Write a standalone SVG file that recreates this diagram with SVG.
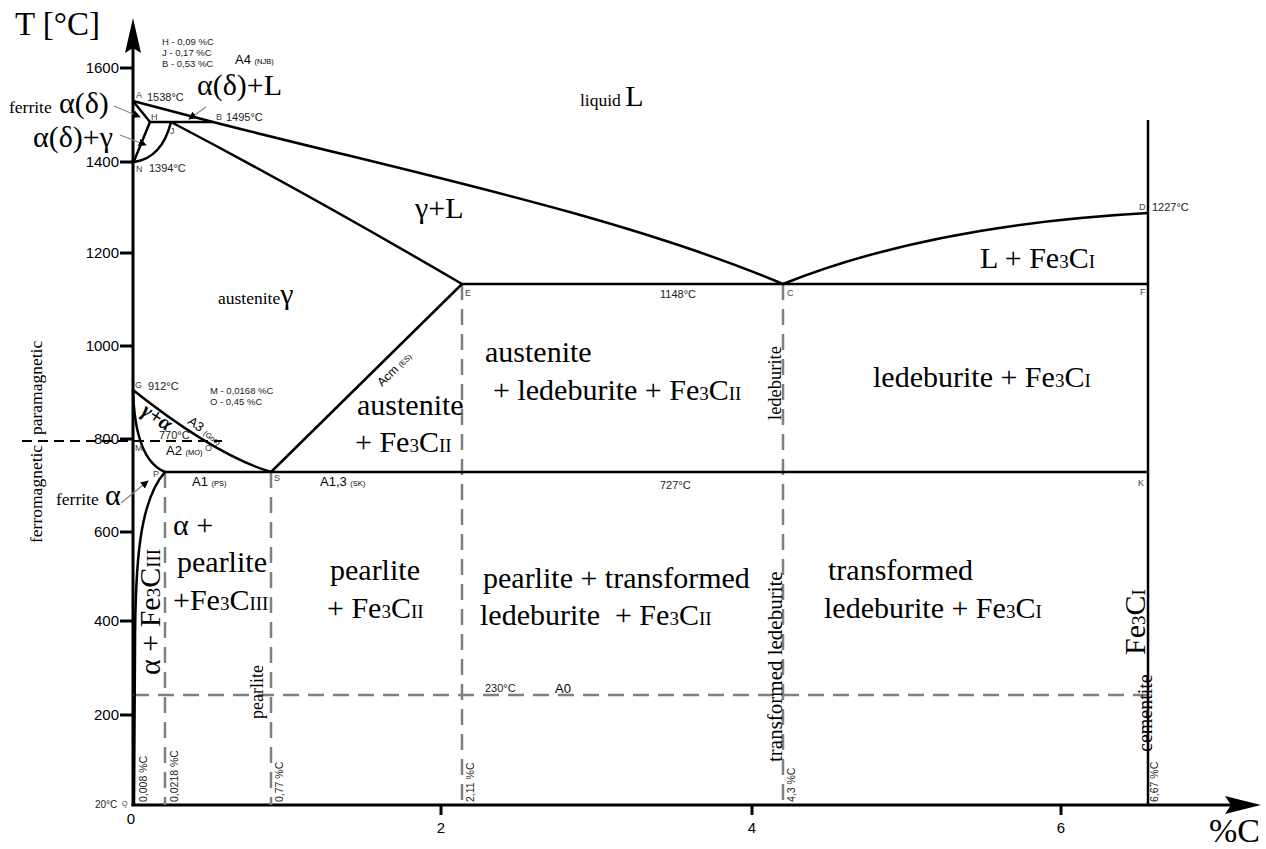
<svg xmlns="http://www.w3.org/2000/svg" width="1266" height="849" viewBox="0 0 1266 849">
<style>
.ln{stroke:#000;stroke-width:2.5;fill:none}
.ax{stroke:#000;stroke-width:3;fill:none}
.dg{stroke:#808080;stroke-width:2.5;stroke-dasharray:16 9;fill:none}
.db{stroke:#000;stroke-width:2;stroke-dasharray:10 6;fill:none}
.ptr{stroke:#888;stroke-width:1.2;fill:none;marker-end:url(#ah)}
.big{font-family:"Liberation Serif",serif;font-size:30px;fill:#000}
.med{font-family:"Liberation Serif",serif;font-size:17.5px;fill:#000}
.s{font-size:19px}
.tk{font-family:"Liberation Sans",sans-serif;font-size:15px;fill:#000}
.t13{font-family:"Liberation Sans",sans-serif;font-size:13px;fill:#000}
.t9{font-family:"Liberation Sans",sans-serif;font-size:9.5px;fill:#222}
.t7{font-size:7.5px}
.pt{font-family:"Liberation Sans",sans-serif;font-size:9px;fill:#444}
.pc{font-family:"Liberation Sans",sans-serif;font-size:11px;fill:#222}
</style>
<defs>
<marker id="ah" viewBox="0 0 10 10" refX="9" refY="5" markerWidth="8" markerHeight="8" orient="auto" markerUnits="userSpaceOnUse">
<path d="M0,0 L10,5 L0,10 z" fill="#000"/>
</marker>
</defs>

<g id="axes">
<line class="ax" x1="133" y1="806" x2="133" y2="45"/>
<polygon points="133,18 141,53 133,48 125,53" fill="#000"/>
<line class="ax" x1="131.5" y1="805" x2="1232" y2="805"/>
<polygon points="1261,805 1225,796 1231,805 1225,814" fill="#000"/>
<g stroke="#000" stroke-width="3">
<line x1="120" y1="68" x2="133" y2="68"/>
<line x1="120" y1="162" x2="133" y2="162"/>
<line x1="120" y1="253" x2="133" y2="253"/>
<line x1="120" y1="346" x2="133" y2="346"/>
<line x1="120" y1="439" x2="133" y2="439"/>
<line x1="120" y1="532" x2="133" y2="532"/>
<line x1="120" y1="621" x2="133" y2="621"/>
<line x1="120" y1="715" x2="133" y2="715"/>
<line x1="441" y1="805" x2="441" y2="815"/>
<line x1="752" y1="805" x2="752" y2="815"/>
<line x1="1061" y1="805" x2="1061" y2="815"/>
</g>
<g class="tk" text-anchor="end">
<text x="119" y="73">1600</text>
<text x="119" y="167">1400</text>
<text x="119" y="258">1200</text>
<text x="119" y="351">1000</text>
<text x="119" y="444">800</text>
<text x="119" y="537">600</text>
<text x="119" y="626">400</text>
<text x="119" y="720">200</text>
</g>
<g class="tk" text-anchor="middle">
<text x="131" y="824">0</text>
<text x="441" y="833">2</text>
<text x="752" y="833">4</text>
<text x="1061" y="833">6</text>
</g>
<text x="15" y="35" font-family="Liberation Serif, serif" font-size="33">T [°C]</text>
<text x="1209" y="842" font-family="Liberation Serif, serif" font-size="34">%C</text>
</g>

<g id="connectors">
<g id="dashed">
<line class="dg" x1="165" y1="472" x2="165" y2="805"/>
<line class="dg" x1="271" y1="472" x2="271" y2="805"/>
<line class="dg" x1="462" y1="284" x2="462" y2="805"/>
<line class="dg" x1="783" y1="284" x2="783" y2="805"/>
<line class="dg" x1="133" y1="695" x2="1148" y2="695"/>
<line class="db" x1="22" y1="441" x2="222" y2="441"/>
</g>
<g id="phase-lines">
<path class="ln" d="M133,101 L213,122 C400,170 620,215 783,284"/>
<path class="ln" d="M783,284 Q930,225 1148,213"/>
<line class="ln" x1="133" y1="101" x2="150" y2="122"/>
<line class="ln" x1="150" y1="122" x2="213" y2="122"/>
<line class="ln" x1="150" y1="122" x2="134" y2="161"/>
<path class="ln" d="M134,162 Q162,158 171,122"/>
<path class="ln" d="M171,122 Q310,195 462,284"/>
<line class="ln" x1="462" y1="284" x2="1148" y2="284"/>
<line class="ln" x1="462" y1="284" x2="271" y2="472"/>
<path class="ln" d="M133,390 Q215,455 271,472"/>
<path class="ln" d="M133,390 Q135,460 165,472"/>
<path class="ln" d="M165,472 C140,500 135,560 135,650 L134,805"/>
<line class="ln" x1="165" y1="472" x2="1148" y2="472"/>
<line class="ln" x1="1148" y1="120" x2="1148" y2="806"/>
</g>
<g id="pointers">
<line class="ptr" x1="114" y1="106" x2="140" y2="117"/>
<line class="ptr" x1="120" y1="135" x2="146" y2="145"/>
<line class="ptr" x1="206" y1="107" x2="189" y2="119"/>
<line class="ptr" x1="121" y1="503" x2="148" y2="481"/>
</g>
</g>

<g id="point-labels" class="pt">
<text x="136" y="98">A</text>
<text x="151" y="120">H</text>
<text x="216" y="120">B</text>
<text x="170" y="134">J</text>
<text x="136" y="172">N</text>
<text x="135" y="388">G</text>
<text x="135" y="451">M</text>
<text x="205" y="451">O</text>
<text x="153" y="477">P</text>
<text x="274" y="481">S</text>
<text x="465" y="296">E</text>
<text x="787" y="296">C</text>
<text x="1140" y="295">F</text>
<text x="1139" y="210">D</text>
<text x="1138" y="486">K</text>
<text x="122" y="806" style="font-size:7px">Q</text>
</g>

<g id="temp-labels" class="pc">
<text x="147" y="101">1538°C</text>
<text x="226" y="121">1495°C</text>
<text x="149" y="172">1394°C</text>
<text x="148" y="390">912°C</text>
<text x="159" y="439">770°C</text>
<text x="660" y="298">1148°C</text>
<text x="660" y="489">727°C</text>
<text x="1152" y="211">1227°C</text>
<text x="485" y="692">230°C</text>
<text x="95" y="808" style="font-size:10px">20°C</text>
</g>

<g id="line-labels" class="t13">
<text x="235" y="64">A4 <tspan class="t7">(NJB)</tspan></text>
<text x="166" y="455">A2 <tspan class="t7">(MO)</tspan></text>
<text x="192" y="486">A1 <tspan class="t7">(PS)</tspan></text>
<text x="320" y="486">A1,3 <tspan class="t7">(SK)</tspan></text>
<text x="555" y="693">A0</text>
<text transform="translate(187,423) rotate(36)">A3 <tspan class="t7">(Gos)</tspan></text>
<text transform="translate(382,387) rotate(-44.5)" style="font-size:12px">Acm <tspan class="t7">(ES)</tspan></text>
</g>

<g id="notes" class="t9">
<text x="162" y="45">H - 0,09 %C</text>
<text x="162" y="56">J - 0,17 %C</text>
<text x="162" y="67">B - 0,53 %C</text>
<text x="210" y="394">M - 0,0168 %C</text>
<text x="210" y="405">O - 0,45 %C</text>
</g>

<g id="composition-labels" class="pc" style="font-size:10.5px">
<text transform="translate(147,802) rotate(-90)">0,008 %C</text>
<text transform="translate(178,802) rotate(-90)">0,0218 %C</text>
<text transform="translate(283,802) rotate(-90)">0,77 %C</text>
<text transform="translate(474,802) rotate(-90)">2,11 %C</text>
<text transform="translate(795,802) rotate(-90)">4,3 %C</text>
<text transform="translate(1158,802) rotate(-90)">6,67 %C</text>
</g>

<g id="phase-labels">
<text class="med" x="9" y="113">ferrite</text>
<text class="big" x="59" y="113">α(δ)</text>
<text class="big" x="33" y="147">α(δ)+γ</text>
<text class="big" x="197" y="95">α(δ)+L</text>
<text class="med" x="580" y="106">liquid <tspan class="big">L</tspan></text>
<text class="big" x="415" y="218">γ+L</text>
<text class="med" x="218" y="304">austenite<tspan class="big">γ</tspan></text>
<text class="big" x="980" y="268">L + Fe<tspan class="s">3</tspan>C<tspan class="s">I</tspan></text>
<text class="big" x="485" y="362">austenite</text>
<text class="big" x="493" y="400">+ ledeburite + Fe<tspan class="s">3</tspan>C<tspan class="s">II</tspan></text>
<text class="med" transform="translate(781,420) rotate(-90)" style="font-size:18.5px">ledeburite</text>
<text class="big" x="873" y="387">ledeburite + Fe<tspan class="s">3</tspan>C<tspan class="s">I</tspan></text>
<text class="big" x="357" y="415">austenite</text>
<text class="big" x="355" y="452">+ Fe<tspan class="s">3</tspan>C<tspan class="s">II</tspan></text>
<text class="big" transform="translate(140,414) rotate(33)" style="font-size:21px;font-style:italic;font-weight:bold">γ+α</text>
<text class="med" x="56" y="505">ferrite</text>
<text class="big" x="105" y="505">α</text>
<text class="med" transform="translate(42,543) rotate(-90)">ferromagnetic</text>
<text class="med" transform="translate(42,435) rotate(-90)">paramagnetic</text>
<text class="big" transform="translate(160,675) rotate(-90)">α + Fe<tspan class="s">3</tspan>C<tspan class="s">III</tspan></text>
<text class="big" x="173" y="535">α +</text>
<text class="big" x="177" y="572">pearlite</text>
<text class="big" x="173" y="610">+Fe<tspan class="s">3</tspan>C<tspan class="s">III</tspan></text>
<text class="med" transform="translate(263,719) rotate(-90)" style="font-size:18px">pearlite</text>
<text class="big" x="330" y="580">pearlite</text>
<text class="big" x="327" y="618">+ Fe<tspan class="s">3</tspan>C<tspan class="s">II</tspan></text>
<text class="big" x="483" y="588">pearlite + transformed</text>
<text class="big" x="480" y="625" xml:space="preserve">ledeburite  + Fe<tspan class="s">3</tspan>C<tspan class="s">II</tspan></text>
<text class="big" x="828" y="580">transformed</text>
<text class="big" x="824" y="618">ledeburite + Fe<tspan class="s">3</tspan>C<tspan class="s">I</tspan></text>
<text class="med" transform="translate(782,762) rotate(-90)" style="font-size:21px">transformed ledeburite</text>
<text class="med" transform="translate(1152,752) rotate(-90)" style="font-size:20px">cementite</text>
<text class="big" transform="translate(1145,655) rotate(-90)">Fe<tspan class="s">3</tspan>C<tspan class="s">I</tspan></text>
</g>
</svg>
